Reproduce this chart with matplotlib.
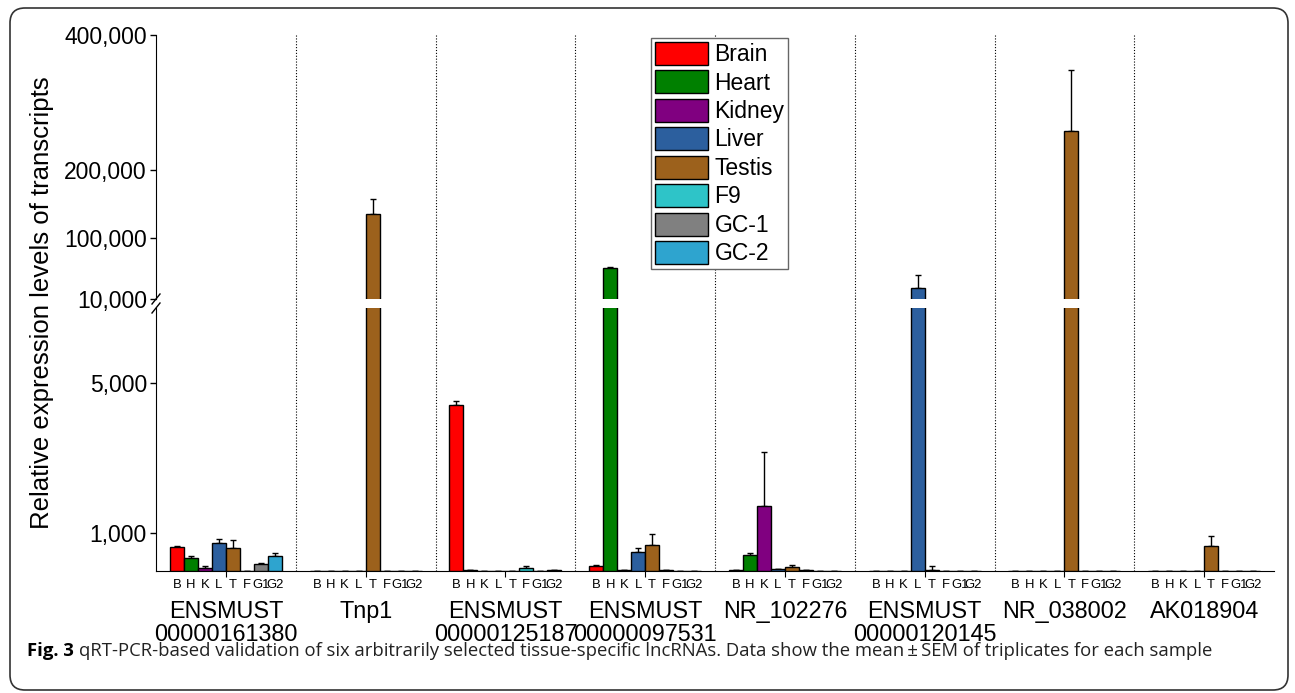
import numpy as np
import matplotlib
matplotlib.use("Agg")
import matplotlib.pyplot as plt
from matplotlib.patches import Patch, FancyBboxPatch
from matplotlib.lines import Line2D
from matplotlib.transforms import IdentityTransform

plt.rcParams['font.family'] = ['Liberation Sans', 'DejaVu Sans']

genes = ['ENSMUST\n00000161380', 'Tnp1', 'ENSMUST\n00000125187', 'ENSMUST\n00000097531',
         'NR_102276', 'ENSMUST\n00000120145', 'NR_038002', 'AK018904']
tissues = ['Brain', 'Heart', 'Kidney', 'Liver', 'Testis', 'F9', 'GC-1', 'GC-2']
short_names = ['B', 'H', 'K', 'L', 'T', 'F', 'G1', 'G2']
colors = ['#FF0000', '#008000', '#800080', '#2C5F9E', '#9C611C', '#2EC4C8', '#808080', '#2EA4CF']

# mean values per tissue, one entry per gene
brain = [650, 5, 4420, 135, 30, 8, 3, 3]
heart = [340, 5, 30, 56000, 425, 8, 3, 3]
kidney = [90, 5, 5, 20, 1720, 5, 3, 3]
liver = [750, 5, 5, 495, 40, 26000, 3, 3]
testis = [610, 136000, 10, 700, 100, 30, 258000, 655]
f9 = [5, 5, 90, 30, 20, 10, 3, 3]
gc1 = [185, 5, 5, 5, 10, 5, 3, 3]
gc2 = [400, 5, 15, 5, 5, 5, 3, 3]

# SEM (upper error only)
brain_err = [15, 0, 110, 25, 5, 0, 0, 0]
heart_err = [60, 0, 5, 1500, 45, 0, 0, 0]
kidney_err = [30, 0, 0, 0, 1460, 0, 0, 0]
liver_err = [90, 0, 0, 105, 5, 19000, 0, 0]
testis_err = [210, 21000, 0, 280, 60, 90, 91000, 280]
f9_err = [0, 0, 30, 0, 0, 0, 0, 0]
gc1_err = [35, 0, 0, 0, 0, 0, 0, 0]
gc2_err = [70, 0, 0, 0, 0, 0, 0, 0]

low_ticks = [1000, 5000]
high_ticks = [10000, 100000, 200000, 400000]

W, H = 1295, 693


def fx(px):
    return px / W


def fy(py):
    return (H - py) / H


def draw_bars(ax, values, errors):
    n = len(genes)
    centers = np.arange(n) * 10 + 5
    for i, (vals, errs) in enumerate(zip(values, errors)):
        x = centers + (i - 3.5)
        ax.bar(x, vals, width=1.0, color=colors[i], edgecolor='black', linewidth=1, zorder=3)
        err = np.array(errs)
        ax.errorbar(x, vals, yerr=[np.zeros(n), err], fmt='none', ecolor='black',
                    elinewidth=1, capsize=2.5, capthick=1, zorder=2)
    for sep in range(10, n * 10, 10): #dotted separator between genes
        ax.axvline(sep, color='black', lw=0.8, linestyle=(0, (1, 1.6)), zorder=1)


def main():
    values = [brain, heart, kidney, liver, testis, f9, gc1, gc2]
    errors = [brain_err, heart_err, kidney_err, liver_err, testis_err, f9_err, gc1_err, gc2_err]

    fig = plt.figure(figsize=(W / 100, H / 100), dpi=100)
    left, right = fx(156), fx(1274)
    ax_top = fig.add_axes([left, fy(299), right - left, fy(35) - fy(299)])
    ax_bot = fig.add_axes([left, fy(571), right - left, fy(308) - fy(571)])

    draw_bars(ax_top, values, errors)
    draw_bars(ax_bot, values, errors)
    # bridge the dotted separators over the gap between the two panels
    for sep in range(10, len(genes) * 10, 10):
        ax_bot.axvline(sep, ymin=1, ymax=1.04, color='black', lw=0.8,
                       linestyle=(0, (1, 1.6)), clip_on=False)

    for ax in (ax_top, ax_bot):
        ax.set_xlim(0, len(genes) * 10)
        ax.spines['top'].set_visible(False)
        ax.spines['right'].set_visible(False)
        ax.tick_params(axis='y', direction='out', length=4.5, width=1, labelsize=16.5, pad=2)
        ax.yaxis.set_major_formatter(matplotlib.ticker.StrMethodFormatter('{x:,.0f}'))

    ax_top.set_ylim(10000, 400000)
    ax_top.set_yticks(high_ticks)
    ax_top.spines['bottom'].set_visible(False)
    ax_top.set_xticks([])

    ax_bot.set_ylim(0, 7000)
    ax_bot.set_yticks(low_ticks)
    centers = np.arange(len(genes)) * 10 + 5
    ax_bot.set_xticks(centers)
    ax_bot.set_xticklabels(genes, fontsize=16.8, linespacing=1.0)
    ax_bot.tick_params(axis='x', which='major', direction='out', length=4, pad=17)
    minor_pos = np.concatenate([c + np.arange(8) - 3.5 for c in centers])
    ax_bot.set_xticks(minor_pos, minor=True)
    ax_bot.set_xticklabels(short_names * len(genes), minor=True, fontsize=9.4)
    ax_bot.tick_params(axis='x', which='minor', length=0, pad=6)

    # break marks on the y axis
    for yb in (299, 308):
        fig.add_artist(Line2D([fx(152), fx(160)], [fy(yb + 5), fy(yb - 5)], color='black', lw=1))

    fig.text(fx(42), fy(303), 'Relative expression levels of transcripts', rotation=90,
             ha='center', va='center', fontsize=18.5)

    handles = [Patch(facecolor=c, edgecolor='black', lw=1) for c in colors]
    fig.legend(handles, tissues, loc='upper left', bbox_to_anchor=(fx(651), fy(38)),
               fontsize=16.5, frameon=True, fancybox=False, edgecolor='#666666',
               handlelength=2.3, handleheight=1.15, labelspacing=0.19, handletextpad=0.3,
               borderpad=0.17, borderaxespad=0, framealpha=1)

    # caption
    cap = fig.text(fx(27), fy(656), 'Fig. 3', fontsize=13.3, fontweight='bold',
                   family=['Open Sans', 'DejaVu Sans'], va='baseline')
    fig.canvas.draw()
    bb = cap.get_window_extent()
    fig.text((bb.x1 + 5) / W, fy(656), 'qRT-PCR-based validation of six arbitrarily selected '
             'tissue-specific lncRNAs. Data show the mean\u2009\u00b1\u2009SEM of triplicates for each sample',
             fontsize=13.3, family=['Open Sans', 'DejaVu Sans'], va='baseline', color='#222222')

    border = FancyBboxPatch((10, 3), 1278, 682, boxstyle='round,pad=0,rounding_size=15',
                            transform=IdentityTransform(), fill=False, lw=1.2, edgecolor='#333333')
    fig.patches.append(border)

    fig.savefig('out.png', dpi=100)


if __name__ == "__main__":
    main()
